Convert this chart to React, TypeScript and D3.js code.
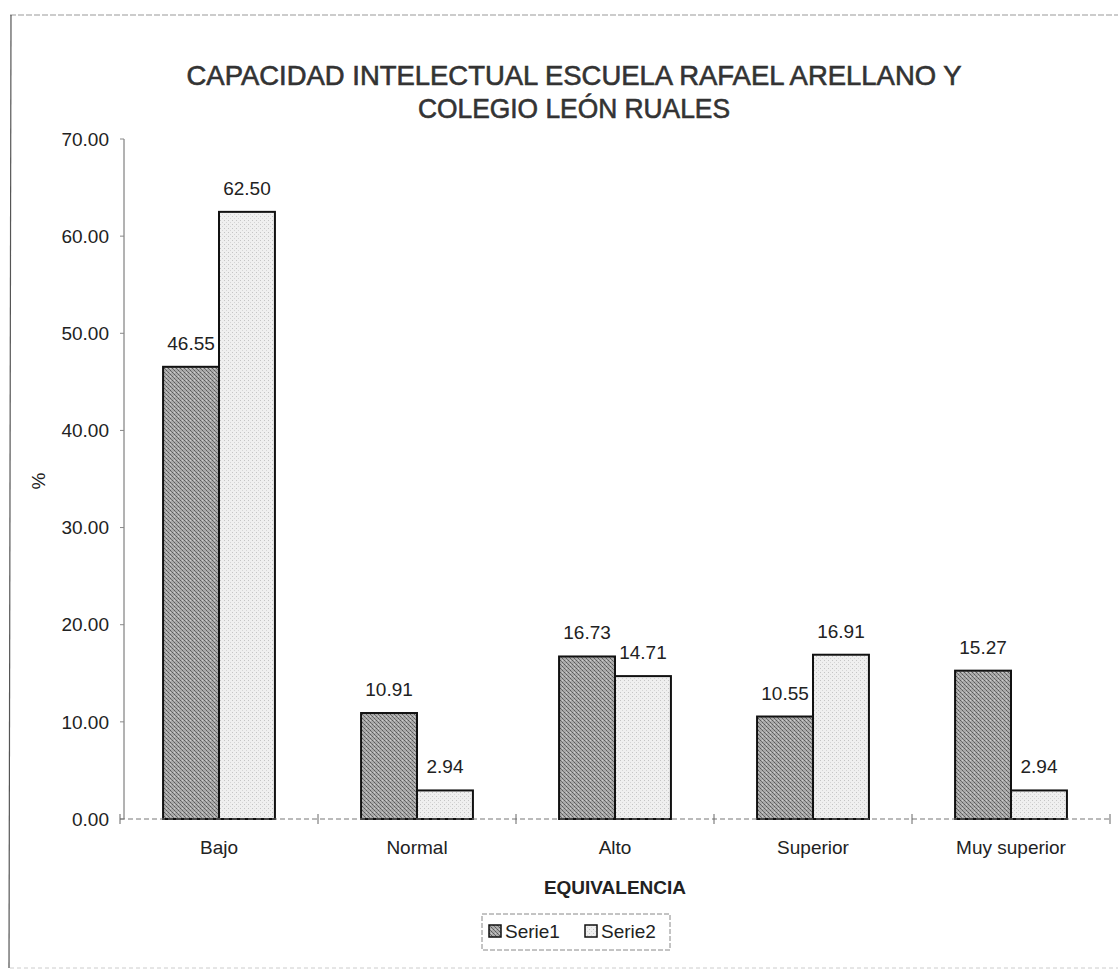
import React from "react";
import * as d3 from "d3";

const categories = ["Bajo", "Normal", "Alto", "Superior", "Muy superior"];
const seriesNames = ["Serie1", "Serie2"];
const serie1 = [46.55, 10.91, 16.73, 10.55, 15.27];
const serie2 = [62.5, 2.94, 14.71, 16.91, 2.94];
const yTicks = [0, 10, 20, 30, 40, 50, 60, 70];
const titleLines = [
  "CAPACIDAD INTELECTUAL ESCUELA RAFAEL ARELLANO Y",
  "COLEGIO LEÓN RUALES",
];

const W = 1118;
const H = 970;
const margin = { top: 139, right: 8, bottom: 151, left: 120 };
const font = "'Liberation Sans', Arial, sans-serif";
const fs = 19;

export default function App() {
  const x = d3
    .scaleBand()
    .domain(categories)
    .range([margin.left, W - margin.right])
    .padding(0);

  const xs = d3
    .scaleBand()
    .domain(seriesNames)
    .range([0, x.bandwidth()])
    .paddingInner(0)
    .paddingOuter(0.77);

  const y = d3.scaleLinear().domain([0, 70]).range([H - margin.bottom, margin.top]);

  const fills = ["url(#pat1)", "url(#pat2)"];
  const values = [serie1, serie2];
  const y0 = y(0);
  const xEnd = W - margin.right;
  const boundaries = categories.map((c) => x(c)!).concat([xEnd]);

  return (
    <svg width={W} height={H} style={{ position: "absolute", left: 0, top: 0, background: "#fff" }}>
      <defs>
        <pattern id="pat1" width="4" height="4" patternUnits="userSpaceOnUse">
          <rect width="4" height="4" fill="#aaaaaa" />
          <rect x="0" y="0" width="1" height="1" fill="#5a5a5a" />
          <rect x="1" y="1" width="1" height="1" fill="#707070" />
          <rect x="2" y="2" width="1" height="1" fill="#5a5a5a" />
          <rect x="3" y="3" width="1" height="1" fill="#707070" />
          <rect x="2" y="0" width="1" height="1" fill="#cccccc" />
        </pattern>
        <pattern id="pat2" width="4" height="4" patternUnits="userSpaceOnUse">
          <rect width="4" height="4" fill="#efefef" />
          <rect x="0" y="0" width="1" height="1" fill="#c4c4c4" />
          <rect x="2" y="2" width="1" height="1" fill="#d4d4d4" />
        </pattern>
      </defs>

      {/* marco exterior */}
      <line x1={10} y1={15} x2={W} y2={15} stroke="#999" strokeWidth={1} strokeDasharray="6,2" />
      <line x1={11} y1={15} x2={9} y2={968} stroke="#555" strokeWidth={1.2} />
      <line x1={10} y1={968} x2={W} y2={968} stroke="#ccc" strokeWidth={1} strokeDasharray="4,3" />

      {/* titulo */}
      <text
        x={574}
        y={85}
        textAnchor="middle"
        fontFamily={font}
        fontSize={27}
        fill="#333"
        stroke="#333"
        strokeWidth={0.6}
        textLength={775}
        lengthAdjust="spacingAndGlyphs"
      >
        {titleLines[0]}
      </text>
      <text
        x={574}
        y={118}
        textAnchor="middle"
        fontFamily={font}
        fontSize={27}
        fill="#333"
        stroke="#333"
        strokeWidth={0.6}
        textLength={312}
        lengthAdjust="spacingAndGlyphs"
      >
        {titleLines[1]}
      </text>

      {/* eje y */}
      <line x1={124} y1={y(70)} x2={124} y2={y0} stroke="#666" strokeWidth={1} />
      {yTicks.map((t) => (
        <g key={t}>
          <line x1={120} x2={124} y1={y(t)} y2={y(t)} stroke="#888" />
          <text
            x={109}
            y={y(t)}
            dy="0.35em"
            textAnchor="end"
            fontFamily={font}
            fontSize={fs}
            fill="#222"
          >
            {t.toFixed(2)}
          </text>
        </g>
      ))}
      <text
        transform={`translate(38,${y(35) + 2}) rotate(-90)`}
        textAnchor="middle"
        dy="0.35em"
        fontFamily={font}
        fontSize={fs}
        fill="#222"
      >
        %
      </text>

      {/* barras */}
      {categories.map((c, ci) => (
        <g key={c}>
          {seriesNames.map((s, si) => {
            const v = values[si][ci];
            const bx = x(c)! + xs(s)!;
            return (
              <g key={s}>
                <rect
                  x={bx}
                  y={y(v)}
                  width={xs.bandwidth()}
                  height={y0 - y(v)}
                  fill={fills[si]}
                  stroke="#111"
                  strokeWidth={2}
                />
                <text
                  x={bx + xs.bandwidth() / 2}
                  y={y(v) - 17}
                  textAnchor="middle"
                  fontFamily={font}
                  fontSize={fs}
                  fill="#222"
                >
                  {v.toFixed(2)}
                </text>
              </g>
            );
          })}
        </g>
      ))}

      {/* eje x */}
      <line x1={margin.left} x2={xEnd} y1={y0} y2={y0} stroke="#777" strokeWidth={1} strokeDasharray="5,3" />
      {boundaries.map((bx, i) => (
        <line key={i} x1={bx} x2={bx} y1={y0 - 5} y2={y0 + 5} stroke="#666" />
      ))}
      {categories.map((c) => (
        <text
          key={c}
          x={x(c)! + x.bandwidth() / 2}
          y={847}
          dy="0.35em"
          textAnchor="middle"
          fontFamily={font}
          fontSize={fs}
          fill="#222"
        >
          {c}
        </text>
      ))}
      <text
        x={(margin.left + xEnd) / 2}
        y={887}
        dy="0.35em"
        textAnchor="middle"
        fontFamily={font}
        fontSize={fs}
        fontWeight="bold"
        fill="#222"
      >
        EQUIVALENCIA
      </text>

      {/* leyenda */}
      <rect x={482} y={914} width={188} height={36} fill="none" stroke="#888" strokeWidth={1} strokeDasharray="5,2" />
      {seriesNames.map((s, i) => (
        <g key={s} transform={`translate(489,925)`}>
          <rect x={i * 96} width={12} height={12} fill={fills[i]} stroke="#111" strokeWidth={1.5} />
          <text x={i * 96 + 16} y={6} dy="0.35em" fontFamily={font} fontSize={fs} fill="#222">
            {s}
          </text>
        </g>
      ))}
    </svg>
  );
}
